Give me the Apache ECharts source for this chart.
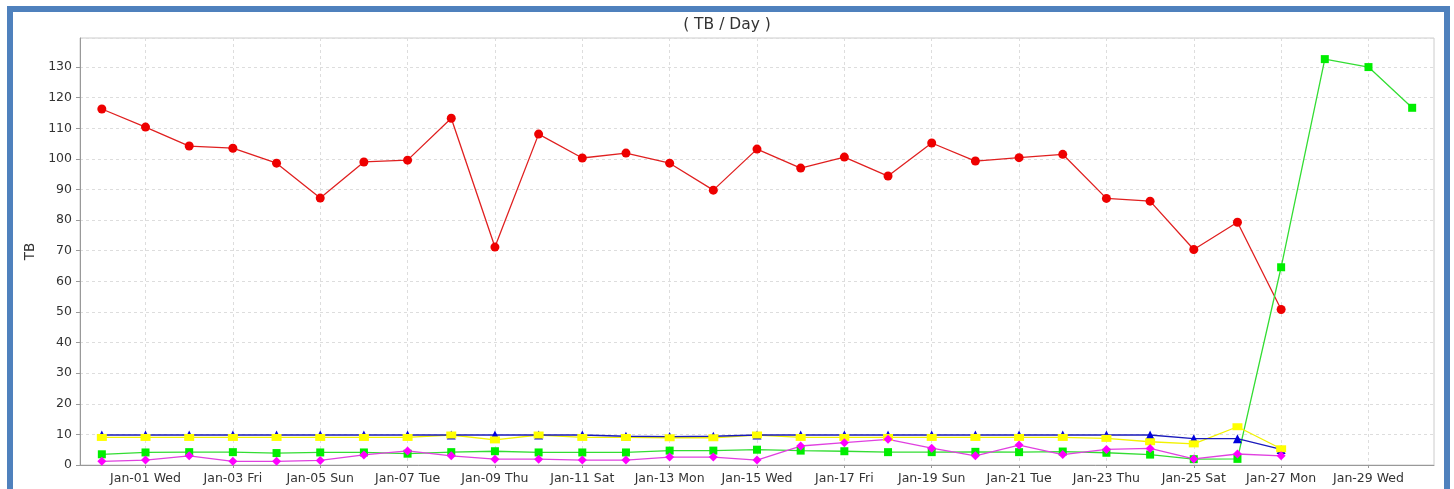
<!DOCTYPE html>
<html>
<head>
<meta charset="utf-8">
<script src="https://cdn.jsdelivr.net/npm/echarts@6/dist/echarts.min.js"></script>
<style>
  html, body { margin: 0; padding: 0; background: #ffffff; }
  #chart { position: absolute; left: 0; top: 0; width: 1454px; height: 489px; }
  #frame { position: absolute; left: 7px; top: 6px; width: 1443px; height: 520px;
           box-sizing: border-box; border: 6px solid #4F81BD; pointer-events: none; }
</style>
</head>
<body>
<div id="chart"></div>
<div id="frame"></div>
<script>
const categories = ['Dec-31 Tue','Jan-01 Wed','Jan-02 Thu','Jan-03 Fri','Jan-04 Sat','Jan-05 Sun','Jan-06 Mon','Jan-07 Tue','Jan-08 Wed','Jan-09 Thu','Jan-10 Fri','Jan-11 Sat','Jan-12 Sun','Jan-13 Mon','Jan-14 Tue','Jan-15 Wed','Jan-16 Thu','Jan-17 Fri','Jan-18 Sat','Jan-19 Sun','Jan-20 Mon','Jan-21 Tue','Jan-22 Wed','Jan-23 Thu','Jan-24 Fri','Jan-25 Sat','Jan-26 Sun','Jan-27 Mon','Jan-28 Tue','Jan-29 Wed','Jan-30 Thu'];

const redSeries = [116.3,110.4,104.2,103.5,98.6,87.2,99.0,99.6,113.3,71.2,108.1,100.3,101.9,98.6,89.8,103.2,97.0,100.6,94.4,105.2,99.3,100.4,101.5,87.1,86.2,70.4,79.3,50.8,null,null,null];
const greenSeries = [3.5,4.1,4.2,4.2,3.9,4.1,4.1,3.7,4.2,4.5,4.1,4.1,4.1,4.7,4.7,5.0,4.7,4.5,4.2,4.2,4.3,4.2,4.4,4.0,3.4,1.9,2.0,64.6,132.6,130.0,116.7];
const blueSeries = [9.8,9.8,9.8,9.8,9.8,9.8,9.8,9.8,9.8,9.8,9.8,9.8,9.4,9.3,9.4,9.8,9.8,9.8,9.8,9.8,9.8,9.8,9.8,9.8,9.8,8.6,8.6,5.1,null,null,null];
const yellowSeries = [9.0,9.0,9.0,9.0,9.0,9.0,9.0,9.0,9.8,8.2,9.8,9.0,9.0,8.9,8.9,9.8,9.0,9.0,9.0,9.0,9.0,9.0,9.0,8.7,7.6,6.9,12.5,5.3,null,null,null];
const magentaSeries = [1.2,1.6,3.0,1.2,1.2,1.5,3.3,4.6,3.0,1.9,1.9,1.6,1.6,2.6,2.6,1.6,6.2,7.3,8.4,5.5,3.0,6.5,3.4,5.1,5.4,2.0,3.6,3.0,null,null,null];

const yTicks = [0,10,20,30,40,50,60,70,80,90,100,110,120,130];

const oddOnly = (i) => i % 2 === 1;
const font = 'DejaVu Sans';

// line pass (all lines below all markers, like the original renderer)
function linePass(name, data, color) {
  return {
    name, type: 'line', data, symbol: 'none', z: 2,
    connectNulls: false,
    lineStyle: { color, width: 1.3 },
    emphasis: { disabled: true }, silent: true, animation: false
  };
}
// marker pass
function shapePass(name, data, color, symbol, size) {
  return {
    name, type: 'line', data, symbol, symbolSize: size, z: 3,
    showSymbol: true, showAllSymbol: true, connectNulls: false,
    lineStyle: { opacity: 0, width: 0 },
    itemStyle: { color, borderWidth: 0 },
    emphasis: { disabled: true }, animation: false
  };
}

const chart = echarts.init(document.getElementById('chart'), null, { renderer: 'canvas' });
chart.setOption({
  backgroundColor: '#ffffff',
  animation: false,
  title: {
    text: '( TB / Day )', left: 'center', top: 12,
    textStyle: { fontFamily: font, fontSize: 15.5, fontWeight: 'normal', color: '#333' }
  },
  grid: { left: 80, right: 20, top: 38, bottom: 24, show: true, borderColor: '#cccccc', borderWidth: 1 },
  xAxis: {
    type: 'category', data: categories, boundaryGap: true,
    axisLine: { lineStyle: { color: '#999999' } },
    axisTick: { show: true, alignWithLabel: true, interval: oddOnly, length: 3, lineStyle: { color: '#999999' } },
    axisLabel: { interval: oddOnly, color: '#333', fontFamily: font, fontSize: 12.5, margin: 7 },
    splitLine: { show: true, alignWithLabel: true, interval: oddOnly,
                 lineStyle: { color: '#dddddd', type: [3, 3], width: 1 } }
  },
  yAxis: {
    type: 'value', min: 0, max: 139.5, interval: 10,
    name: 'TB', nameLocation: 'middle', nameGap: 37, nameRotate: 90,
    nameTextStyle: { fontFamily: font, fontSize: 13.5, color: '#333' },
    axisLine: { show: true, lineStyle: { color: '#999999' } },
    axisTick: { show: true, length: 4, lineStyle: { color: '#999999' } },
    axisLabel: { color: '#333', fontFamily: font, fontSize: 12.5, margin: 8, showMaxLabel: false,
                 formatter: (v) => (yTicks.indexOf(v) >= 0 ? String(v) : '') },
    splitLine: { show: true, lineStyle: { color: '#dddddd', type: [3, 3], width: 1 } }
  },
  series: [
    linePass('Red', redSeries, '#E02020'),
    linePass('Green', greenSeries, '#33DD33'),
    linePass('Yellow', yellowSeries, '#F2F200'),
    linePass('Blue', blueSeries, '#1A1ABB'),
    linePass('Magenta', magentaSeries, '#E040E0'),
    shapePass('Red', redSeries, '#EE0000', 'circle', 9),
    shapePass('Green', greenSeries, '#00EE00', 'rect', 8),
    shapePass('Blue', blueSeries, '#0000DD', 'triangle', 9),
    shapePass('Yellow', yellowSeries, '#FFFF00', 'rect', [10, 7]),
    shapePass('Magenta', magentaSeries, '#FF00FF', 'diamond', 9)
  ]
});
</script>
</body>
</html>
